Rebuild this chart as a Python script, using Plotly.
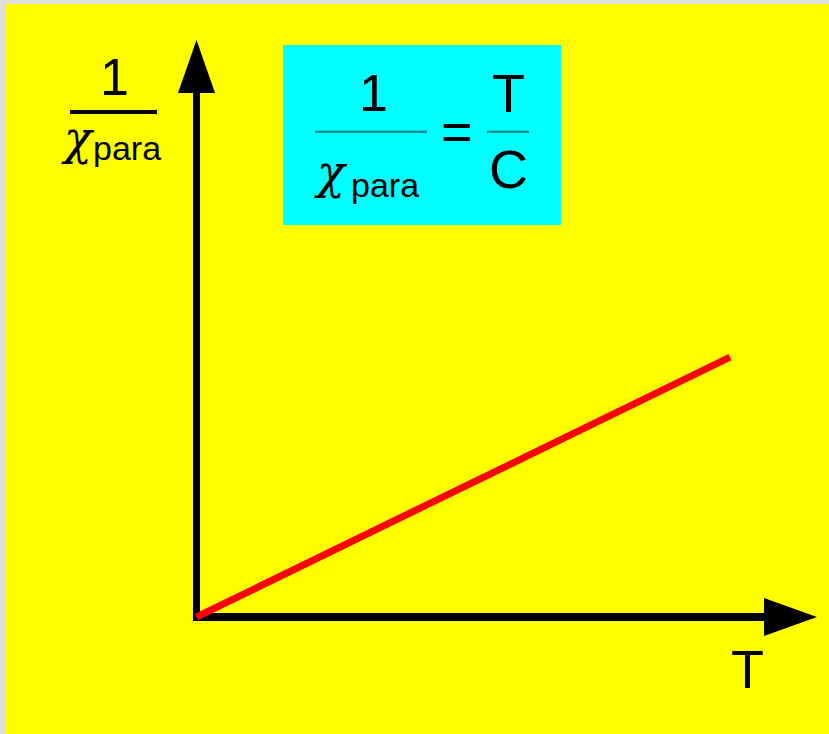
import plotly.graph_objects as go

# ---- data ----
T = [0, 100]                 # temperature (arbitrary units)
inv_chi_para = [0, 48.7]     # 1 / chi_para  (Curie law: T / C)

# ---- canvas geometry ----
W, H = 829, 734
ML, MT = 6, 4                # grey frame on left / top

def fx(p):
    return (p - ML) / (W - ML)

def fy(p):
    return 1 - (p - MT) / (H - MT)

# origin of the drawn axes in pixels and pixel-per-unit scale
X0_PX, Y0_PX, SCALE = 196.5, 617.0, 5.335
x_range = [(ML - X0_PX) / SCALE, (W - X0_PX) / SCALE]
y_range = [(Y0_PX - H) / SCALE, (Y0_PX - MT) / SCALE]

fig = go.Figure()
fig.add_trace(go.Scatter(x=T, y=inv_chi_para, mode="lines",
                         line=dict(color="#ff0000", width=7),
                         hoverinfo="skip", showlegend=False))

shapes = []
def rect(x0, y0, x1, y1, color):
    shapes.append(dict(type="rect", xref="paper", yref="paper",
                       x0=fx(x0), x1=fx(x1), y0=fy(y0), y1=fy(y1),
                       fillcolor=color, line=dict(width=0), layer="below"))

def tri(pts, color="#000000"):
    d = "M " + " L ".join(f"{fx(a)},{fy(b)}" for a, b in pts) + " Z"
    shapes.append(dict(type="path", xref="paper", yref="paper", path=d,
                       fillcolor=color, line=dict(width=0), layer="below"))

# formula box
rect(283, 45, 561, 225, "#00ffff")
# axes
rect(193, 92, 200, 621, "#000000")
rect(193, 613, 765, 621, "#000000")
tri([(196.5, 40), (178, 93), (215, 93)])
tri([(817, 617), (764, 598), (764, 636)])
# fraction bars
rect(70, 110, 157, 114, "#000000")
rect(315, 130.7, 427, 132.7, "#008080")
rect(487, 130.7, 529, 132.7, "#008080")

anns = []
def txt(s, x, y, size, family="Liberation Sans", style="normal"):
    anns.append(dict(text=s, xref="paper", yref="paper", x=fx(x), y=fy(y),
                     xanchor="center", yanchor="middle", showarrow=False,
                     font=dict(family=family, size=size, color="#000000",
                               style=style)))

CHI_FONT = "DejaVu Serif"
# y-axis label
txt("1", 115, 77, 52)
txt("χ", 78, 138, 46, CHI_FONT, "italic")
txt("para", 127, 147.5, 34)
# formula
txt("1", 373, 93, 52)
txt("χ", 331, 172.5, 46, CHI_FONT, "italic")
txt("para", 384.5, 184.5, 34)
txt("=", 457, 131, 54)
txt("T", 508.4, 93, 54)
txt("C", 508, 168.8, 54)
# x-axis label
txt("T", 747.2, 669, 54)

fig.update_layout(
    width=W, height=H, autosize=False,
    margin=dict(l=ML, r=0, t=MT, b=0, pad=0),
    paper_bgcolor="#dedede", plot_bgcolor="#ffff00",
    xaxis=dict(visible=False, range=x_range, fixedrange=True),
    yaxis=dict(visible=False, range=y_range, fixedrange=True),
    shapes=shapes, annotations=anns, showlegend=False,
)

fig.write_html("out.html", config={"displayModeBar": False},
               post_script="document.body.style.margin='0';"
                           "document.body.style.overflow='hidden';")
